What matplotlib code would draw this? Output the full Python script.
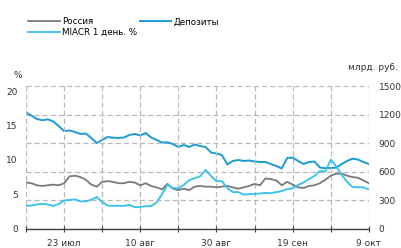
import numpy as np
import pandas as pd
import matplotlib
matplotlib.use('Agg')
import matplotlib.pyplot as plt

# торговые дни
dates = pd.bdate_range('2012-07-12', '2012-10-09')
months = {7: 'июл', 8: 'авг', 9: 'сен', 10: 'окт'}

# ставки, %
russia = [6.7, 6.6, 6.3, 6.2, 6.3, 6.4, 6.3, 6.6, 7.6, 7.7,
          7.5, 7.1, 6.4, 6.1, 6.8, 6.9, 6.8, 6.6, 6.6, 6.8,
          6.7, 6.3, 6.6, 6.2, 6.0, 5.7, 6.5, 5.8, 5.6, 5.8,
          5.6, 6.1, 6.2, 6.1, 6.1, 6.0, 6.1, 6.2, 6.0, 5.8,
          6.0, 6.2, 6.5, 6.3, 7.3, 7.2, 7.0, 6.3, 6.8, 6.4,
          6.0, 5.9, 6.2, 6.3, 6.6, 7.1, 7.7, 8.0, 8.0, 7.7,
          7.5, 7.4, 7.0, 6.6]
miacr = [3.3, 3.35, 3.5, 3.6, 3.5, 3.3, 3.55, 4.1, 4.15, 4.25,
         3.95, 3.95, 4.2, 4.6, 3.85, 3.35, 3.3, 3.3, 3.3, 3.45,
         3.1, 3.15, 3.25, 3.25, 3.8, 5.0, 6.4, 5.9, 5.85, 6.35,
         7.05, 7.35, 7.6, 8.55, 7.65, 6.9, 6.9, 5.9, 5.3, 5.3,
         4.95, 5.0, 5.05, 5.1, 5.2, 5.15, 5.3, 5.45, 5.75, 5.85,
         6.35, 6.7, 7.2, 7.65, 8.4, 8.3, 10.05, 9.1, 7.8, 6.8,
         6.05, 6.0, 6.0, 5.7]
# депозиты, млрд руб.
deposits = [1221, 1189, 1153, 1139, 1149, 1128, 1079, 1026, 1032, 1016,
            995, 1000, 953, 900, 932, 963, 956, 953, 958, 984,
            995, 979, 1005, 958, 932, 905, 907, 889, 858, 879,
            858, 884, 868, 858, 800, 789, 774, 674, 711, 721,
            711, 716, 705, 700, 700, 679, 658, 632, 742, 747,
            711, 679, 700, 705, 642, 635, 637, 640, 679, 711,
            735, 726, 700, 679]

c_grey = '#7a7a7a'
c_dep = '#1b9ad6'
c_miacr = '#33c1ef'
c_grid = '#b8b8b8'
dash = (0, (4, 2.5))

plt.rcParams['font.family'] = 'DejaVu Sans'
plt.rcParams['font.size'] = 6.5

fig = plt.figure(figsize=(4.01, 2.48), dpi=100)
ax = fig.add_axes([0.0648, 0.0786, 0.855, 0.5746])
ax2 = ax.twinx()
ax.set_zorder(ax2.get_zorder() + 1)
ax.patch.set_visible(False)

x = np.arange(len(dates))
l1, = ax.plot(x, russia, color=c_grey, lw=1.3, label='Россия')
l3, = ax.plot(x, miacr, color=c_miacr, lw=1.3, label='MIACR 1 день. %')
l2, = ax2.plot(x, deposits, color=c_dep, lw=1.4, label='Депозиты')

ax.set_xlim(0, len(dates) - 1)
ax.set_ylim(0, 20.77)
ax2.set_ylim(0, 1500)

ticks = x[::7]
ax.set_xticks(ticks)
ax.set_xticklabels([f'{dates[i].day} {months[dates[i].month]}' if k % 2 else ''
                    for k, i in enumerate(ticks)], color='#333333')
ax.tick_params(axis='x', direction='inout', length=5, width=0.8,
               color='#404040', pad=5)
ax.grid(axis='x', color=c_grid, ls=dash, lw=0.9)

ax.set_yticks([0, 5, 10, 15, 20])
ax.tick_params(axis='y', length=0, pad=6, colors='#333333')
ax2.set_yticks([0, 300, 600, 900, 1200, 1500])
ax2.tick_params(axis='y', length=0, pad=7, colors='#333333')
ax2.grid(axis='y', color=c_grid, ls=dash, lw=0.9)

for a in (ax, ax2):
    for s in a.spines.values():
        s.set_visible(False)
ax.spines['bottom'].set_visible(True)
ax.spines['bottom'].set_color('#404040')
ax.spines['bottom'].set_linewidth(1.0)

fig.text(18 / 401, 1 - 75 / 248, '%', ha='center', va='center', color='#333333')
fig.text(373 / 401, 1 - 68 / 248, 'млрд. руб.', ha='center', va='center',
         color='#333333')

fig.legend([l1, l3, l2], ['Россия', 'MIACR 1 день. %', 'Депозиты'],
           loc='upper left', bbox_to_anchor=(24 / 401, 1 - 13 / 248),
           ncol=2, frameon=False, borderpad=0, handlelength=3.6,
           handletextpad=0.25, labelspacing=0.15, columnspacing=0.3,
           fontsize=6.3)

fig.savefig('out.png', dpi=100)
